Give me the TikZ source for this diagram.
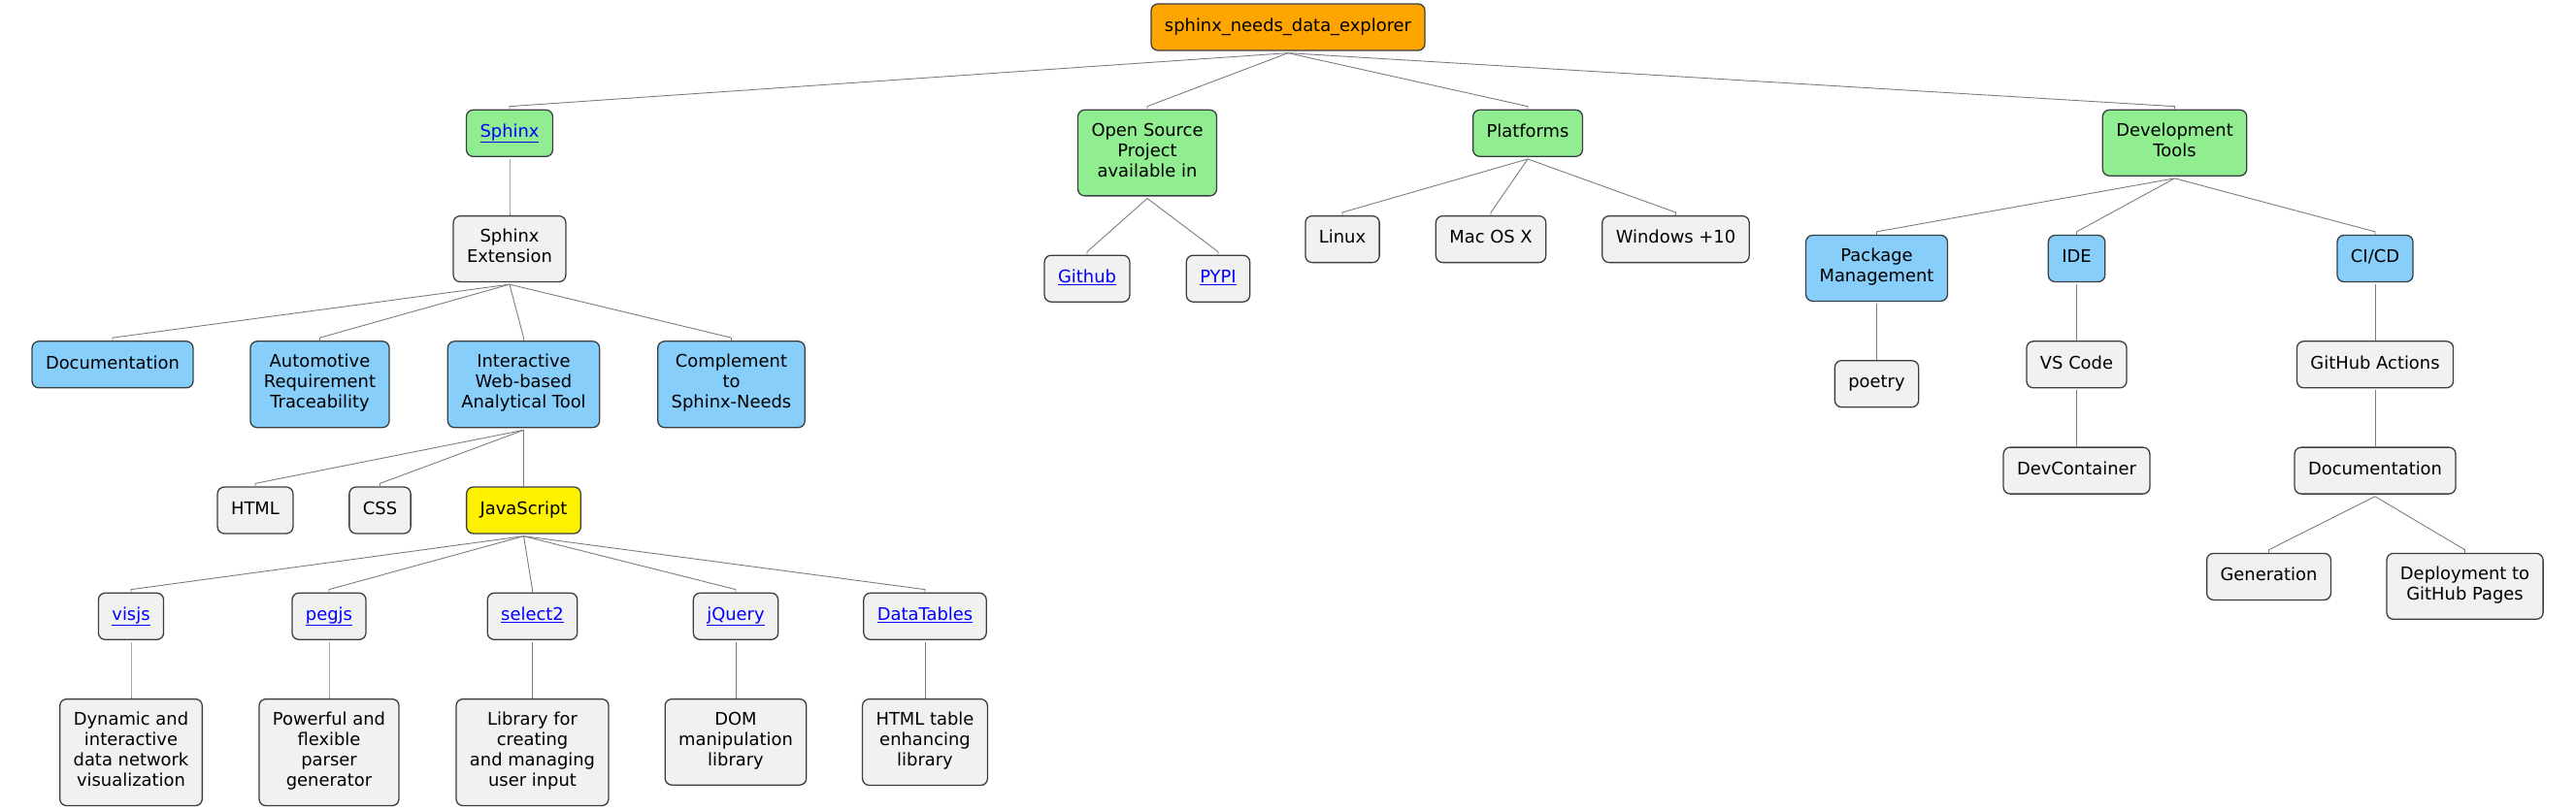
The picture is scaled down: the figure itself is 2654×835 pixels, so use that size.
\documentclass[tikz,border=0pt]{standalone}
\usepackage{fontspec}
\setmainfont{DejaVu Sans}
\usepackage{xcolor}
\usetikzlibrary{positioning}

\definecolor{rootorange}{HTML}{FFA500}
\definecolor{lightgreen}{HTML}{90EE90}
\definecolor{skyblue}{HTML}{87CEFA}
\definecolor{boxgray}{HTML}{F1F1F1}
\definecolor{linkblue}{HTML}{0000FF}
\definecolor{bordergray}{HTML}{3A3F44}
\definecolor{linegray}{HTML}{7C7C7C}

\newcommand{\weblink}[1]{\textcolor{linkblue}{\underline{#1}}}

\begin{document}
\begin{tikzpicture}[node distance=60pt]
	\tikzstyle{item}
	  =[draw=bordergray, fill=boxgray, rectangle, rounded corners=7pt,
	  line width=1.3pt, align=center, inner xsep=14pt, inner ysep=13.5pt,
	  font=\fontsize{17.9pt}{21pt}\selectfont,
	  execute at begin node=\strut, execute at end node=\strut]
	\tikzstyle{item_root}=[item, fill=rootorange]
	\tikzstyle{item_green}=[item, fill=lightgreen]
	\tikzstyle{item_blue}=[item, fill=skyblue]
	\tikzstyle{item_yellow}=[item, fill=yellow]
	\tikzstyle{edge}=[draw=linegray, line width=0.9pt]

	\useasboundingbox (0,0) rectangle (2654pt,-835pt);

	\node[item_root] (Root) at (1327pt,-28pt)
	  {sphinx\_needs\_data\_explorer};

	\node[item_green] (Sph)
	  [below=of Root, xshift=-802pt] {\weblink{Sphinx}};
	\node[item_green] (Osp)
	  [below=of Root, xshift=-145pt] {Open Source\\Project\\available in};
	\node[item_green] (Plt)
	  [below=of Root, xshift=247pt] {Platforms};
	\node[item_green] (Dev)
	  [below=of Root, xshift=913.5pt] {Development\\Tools};

	% Sphinx
	\node[item] (Ext)
	  [below=of Sph] {Sphinx\\Extension};
	\node[item_blue] (Doc)
	  [below=of Ext, xshift=-409pt] {Documentation};
	\node[item_blue] (Aut)
	  [below=of Ext, xshift=-195.5pt] {Automotive\\Requirement\\Traceability};
	\node[item_blue] (Web)
	  [below=of Ext, xshift=14.5pt] {Interactive\\Web-based\\Analytical Tool};
	\node[item_blue] (Cmp)
	  [below=of Ext, xshift=228.5pt] {Complement\\to\\Sphinx-Needs};
	\node[item] (Htm)
	  [below=of Web, xshift=-276.5pt] {HTML};
	\node[item] (Css)
	  [below=of Web, xshift=-148pt] {CSS};
	\node[item_yellow] (Js)
	  [below=of Web] {JavaScript};
	\node[item] (Vis)
	  [below=of Js, xshift=-404.5pt] {\weblink{visjs}};
	\node[item] (Peg)
	  [below=of Js, xshift=-200.5pt] {\weblink{pegjs}};
	\node[item] (Sel)
	  [below=of Js, xshift=9pt] {\weblink{select2}};
	\node[item] (Jq)
	  [below=of Js, xshift=218.5pt] {\weblink{jQuery}};
	\node[item] (Dt)
	  [below=of Js, xshift=413.5pt] {\weblink{DataTables}};
	\node[item] (Vis2)
	  [below=of Vis] {Dynamic and\\interactive\\data network\\visualization};
	\node[item] (Peg2)
	  [below=of Peg] {Powerful and\\flexible\\parser\\generator};
	\node[item] (Sel2)
	  [below=of Sel] {Library for\\creating\\and managing\\user input};
	\node[item] (Jq2)
	  [below=of Jq] {DOM\\manipulation\\library};
	\node[item] (Dt2)
	  [below=of Dt] {HTML table\\enhancing\\library};

	% Open Source
	\node[item] (Gh)
	  [below=of Osp, xshift=-62pt] {\weblink{Github}};
	\node[item] (Pyp)
	  [below=of Osp, xshift=73pt] {\weblink{PYPI}};

	% Platforms
	\node[item] (Lin)
	  [below=of Plt, xshift=-191pt] {Linux};
	\node[item] (Mac)
	  [below=of Plt, xshift=-38pt] {Mac OS X};
	\node[item] (Win)
	  [below=of Plt, xshift=152.5pt] {Windows +10};

	% Development Tools
	\node[item_blue] (Pkg)
	  [below=of Dev, xshift=-307pt] {Package\\Management};
	\node[item_blue] (Ide)
	  [below=of Dev, xshift=-101pt] {IDE};
	\node[item_blue] (Cic)
	  [below=of Dev, xshift=206.5pt] {CI/CD};
	\node[item] (Poe)
	  [below=of Pkg] {poetry};
	\node[item] (Vsc)
	  [below=of Ide] {VS Code};
	\node[item] (Gha)
	  [below=of Cic] {GitHub Actions};
	\node[item] (Dcn)
	  [below=of Vsc] {DevContainer};
	\node[item] (Doc2)
	  [below=of Gha] {Documentation};
	\node[item] (Gen)
	  [below=of Doc2, xshift=-109.5pt] {Generation};
	\node[item] (Dep)
	  [below=of Doc2, xshift=92.5pt] {Deployment to\\GitHub Pages};

	\foreach \p/\c in {Root/Sph, Root/Osp, Root/Plt, Root/Dev,
	  Sph/Ext, Ext/Doc, Ext/Aut, Ext/Web, Ext/Cmp,
	  Web/Htm, Web/Css, Web/Js,
	  Js/Vis, Js/Peg, Js/Sel, Js/Jq, Js/Dt,
	  Vis/Vis2, Peg/Peg2, Sel/Sel2, Jq/Jq2, Dt/Dt2,
	  Osp/Gh, Osp/Pyp, Plt/Lin, Plt/Mac, Plt/Win,
	  Dev/Pkg, Dev/Ide, Dev/Cic, Pkg/Poe, Ide/Vsc, Cic/Gha,
	  Vsc/Dcn, Gha/Doc2, Doc2/Gen, Doc2/Dep}
	  \draw[edge] ([yshift=-2pt]\p.south) -- ([yshift=3pt]\c.north) -- (\c.north);
\end{tikzpicture}
\end{document}
